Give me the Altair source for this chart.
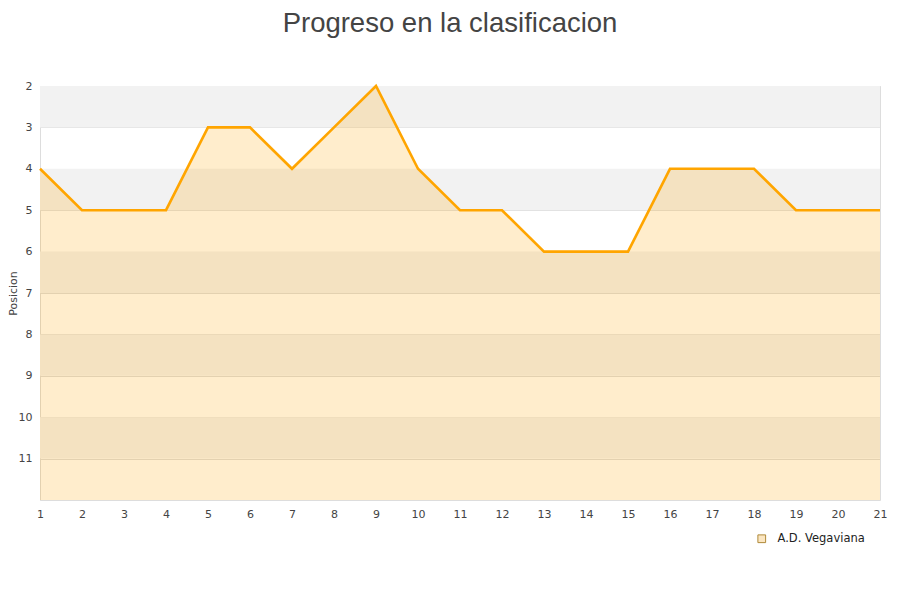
import altair as alt
import pandas as pd

jornadas = list(range(1, 22))
posiciones = [4, 5, 5, 5, 3, 3, 4, 3, 2, 4, 5, 5, 6, 6, 6, 4, 4, 4, 5, 5, 5]
equipo = "A.D. Vegaviana"
y_ticks = [2, 3, 4, 5, 6, 7, 8, 9, 10, 11]
band_starts = [2, 4, 6, 8, 10]

df = pd.DataFrame({"jornada": jornadas, "posicion": posiciones, "equipo": equipo, "base": 12})
bands = pd.DataFrame({"y1": band_starts, "y2": [b + 1 for b in band_starts]})

xscale = alt.Scale(domain=[1, 21], nice=False, zero=False)
yscale = alt.Scale(domain=[2, 12], reverse=True, nice=False, zero=False)

band_layer = alt.Chart(bands).mark_rect(color="#f2f2f2").encode(
    y=alt.Y("y1:Q", scale=yscale),
    y2="y2:Q",
    x=alt.value(0),
    x2=alt.value(840),
)

area = alt.Chart(df).mark_area(opacity=0.2, color="#ffa500").encode(
    x=alt.X("jornada:Q", scale=xscale,
            axis=alt.Axis(values=jornadas, title=None, grid=False, ticks=False,
                          domain=False, labelPadding=8, labelFontSize=11, labelFlush=False,
                          labelColor="#444", labelFont="DejaVu Sans")),
    y=alt.Y("posicion:Q", scale=yscale,
            axis=alt.Axis(values=y_ticks, title="Posicion", grid=True, gridColor="#dddddd",
                          ticks=False, domain=True, domainColor="#dddddd",
                          labelPadding=8, labelFontSize=11, labelColor="#444",
                          labelFont="DejaVu Sans", titleFont="DejaVu Sans",
                          titleFontSize=11, titleFontWeight="normal", titleColor="#444",
                          titlePadding=0)),
    y2="base:Q",
)

line = alt.Chart(df).mark_line(color="#ffa500", strokeWidth=2.6).encode(
    x=alt.X("jornada:Q", scale=xscale),
    y=alt.Y("posicion:Q", scale=yscale),
)

legend_pts = alt.Chart(df).mark_point(shape="square", filled=True, size=0, opacity=0).encode(
    color=alt.Color("equipo:N",
                    scale=alt.Scale(domain=[equipo], range=["#fbe6c2"]),
                    legend=alt.Legend(title=None, orient="none", legendX=716, legendY=447,
                                      symbolType="square", symbolSize=60,
                                      symbolFillColor="#fbe6c2", symbolStrokeColor="#b08a3a",
                                      symbolStrokeWidth=1, symbolOpacity=1,
                                      labelFont="DejaVu Sans", labelFontSize=11.5,
                                      labelColor="#222", labelOffset=10)),
)

chart = alt.layer(band_layer, area, line, legend_pts).properties(
    width=840,
    height=414,
    autosize=alt.AutoSizeParams(type="none"),
    padding={"left": 32, "top": 78, "right": 12, "bottom": 80},
    title=alt.TitleParams("Progreso en la clasificacion", fontSize=27.5, font="Liberation Sans",
                          fontWeight="normal", color="#444", anchor="middle", offset=43, dx=-10),
).configure_view(stroke="#dddddd", strokeWidth=1)

chart.save("out.html", embed_options={"renderer": "svg", "actions": False})
